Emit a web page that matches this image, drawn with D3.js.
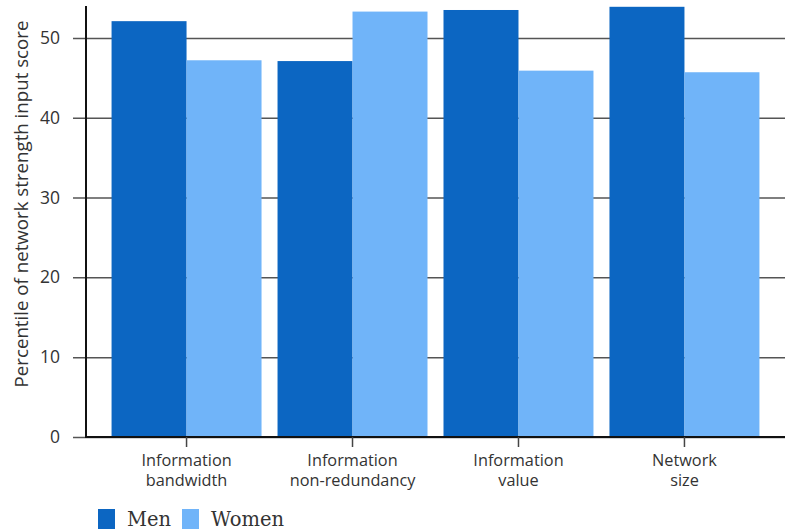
<!DOCTYPE html>
<html>
<head>
<meta charset="utf-8">
<script src="https://cdn.jsdelivr.net/npm/d3@7"></script>
<style>
  body { margin: 0; background: white; }
  svg { display: block; }
</style>
</head>
<body>
<svg id="chart" width="791" height="531"></svg>
<script>
// chart data
const categories = [
  ["Information", "bandwidth"],
  ["Information", "non-redundancy"],
  ["Information", "value"],
  ["Network", "size"],
];
const menValues = [52.1, 47.1, 53.5, 53.9];
const womenValues = [47.2, 53.3, 45.9, 45.7];
const seriesNames = ["Men", "Women"];
const yTicks = [0, 10, 20, 30, 40, 50];

const colors = ["#0c66c2", "#70b4f9"];
const font = "'Open Sans', Lato, sans-serif";

const svg = d3.select("#chart");
const plot = { left: 86, right: 785, top: 6, bottom: 437 };

const x = d3
  .scaleBand()
  .domain(d3.range(categories.length))
  .range([plot.left, plot.right])
  .paddingInner(0.0964)
  .paddingOuter(0.154);
const xSub = d3
  .scaleBand()
  .domain(seriesNames)
  .range([0, x.bandwidth()]);
const y = d3.scaleLinear().domain([0, 54]).range([plot.bottom, plot.top]);

// gridlines + y ticks
const yAxis = svg
  .append("g")
  .attr("transform", `translate(${plot.left},0)`)
  .call(
    d3
      .axisLeft(y)
      .tickValues(yTicks)
      .tickSizeInner(-(plot.right - plot.left))
      .tickSizeOuter(0)
      .tickPadding(26)
  );
yAxis.select(".domain").remove();
yAxis.selectAll(".tick line").attr("x1", -13).attr("stroke", "#555").attr("stroke-width", 1.5);
yAxis
  .selectAll(".tick text")
  .attr("font-family", font)
  .attr("font-size", "17.5px")
  .attr("fill", "#333");

// bars
const rows = categories.map((c, i) => [menValues[i], womenValues[i]]);
svg
  .append("g")
  .selectAll("g")
  .data(rows)
  .join("g")
  .attr("transform", (d, i) => `translate(${x(i)},0)`)
  .selectAll("rect")
  .data((d) => d.map((v, j) => ({ key: seriesNames[j], value: v, j })))
  .join("rect")
  .attr("x", (d) => xSub(d.key))
  .attr("y", (d) => y(d.value))
  .attr("width", xSub.bandwidth())
  .attr("height", (d) => plot.bottom - y(d.value))
  .attr("fill", (d) => colors[d.j]);

// axes lines
svg
  .append("line")
  .attr("x1", plot.left).attr("x2", plot.left)
  .attr("y1", plot.top).attr("y2", plot.bottom + 1)
  .attr("stroke", "#111").attr("stroke-width", 2);
svg
  .append("line")
  .attr("x1", plot.left - 1).attr("x2", plot.right)
  .attr("y1", plot.bottom).attr("y2", plot.bottom)
  .attr("stroke", "#111").attr("stroke-width", 2);

// x ticks and labels
const xg = svg.append("g");
xg.selectAll("line")
  .data(categories)
  .join("line")
  .attr("x1", (d, i) => x(i) + x.bandwidth() / 2)
  .attr("x2", (d, i) => x(i) + x.bandwidth() / 2)
  .attr("y1", plot.bottom)
  .attr("y2", plot.bottom + 10)
  .attr("stroke", "#444")
  .attr("stroke-width", 1.5);
xg.selectAll("text")
  .data(categories)
  .join("text")
  .attr("x", (d, i) => x(i) + x.bandwidth() / 2)
  .attr("y", plot.bottom + 29)
  .attr("text-anchor", "middle")
  .attr("font-family", font)
  .attr("font-size", "16.3px")
  .attr("fill", "#333")
  .selectAll("tspan")
  .data((d) => d)
  .join("tspan")
  .attr("x", function () { return d3.select(this.parentNode).attr("x"); })
  .attr("dy", (d, i) => (i === 0 ? 0 : 20))
  .text((d) => d);

// y title
svg
  .append("text")
  .attr("transform", "translate(28,204) rotate(-90)")
  .attr("text-anchor", "middle")
  .attr("font-family", font)
  .attr("font-size", "18.7px")
  .attr("fill", "#333")
  .text("Percentile of network strength input score");

// legend
const legend = svg.append("g").attr("transform", "translate(98,509)");
const legendX = [0, 84];
const items = legend
  .selectAll("g")
  .data(seriesNames)
  .join("g")
  .attr("transform", (d, i) => `translate(${legendX[i]},0)`);
items
  .append("rect")
  .attr("width", 17)
  .attr("height", 20)
  .attr("fill", (d, i) => colors[i]);
items
  .append("text")
  .attr("x", 29)
  .attr("y", 17)
  .attr("font-family", "'DejaVu Serif', serif")
  .attr("font-size", "19.5px")
  .attr("fill", "#333")
  .text((d) => d);
</script>
</body>
</html>
